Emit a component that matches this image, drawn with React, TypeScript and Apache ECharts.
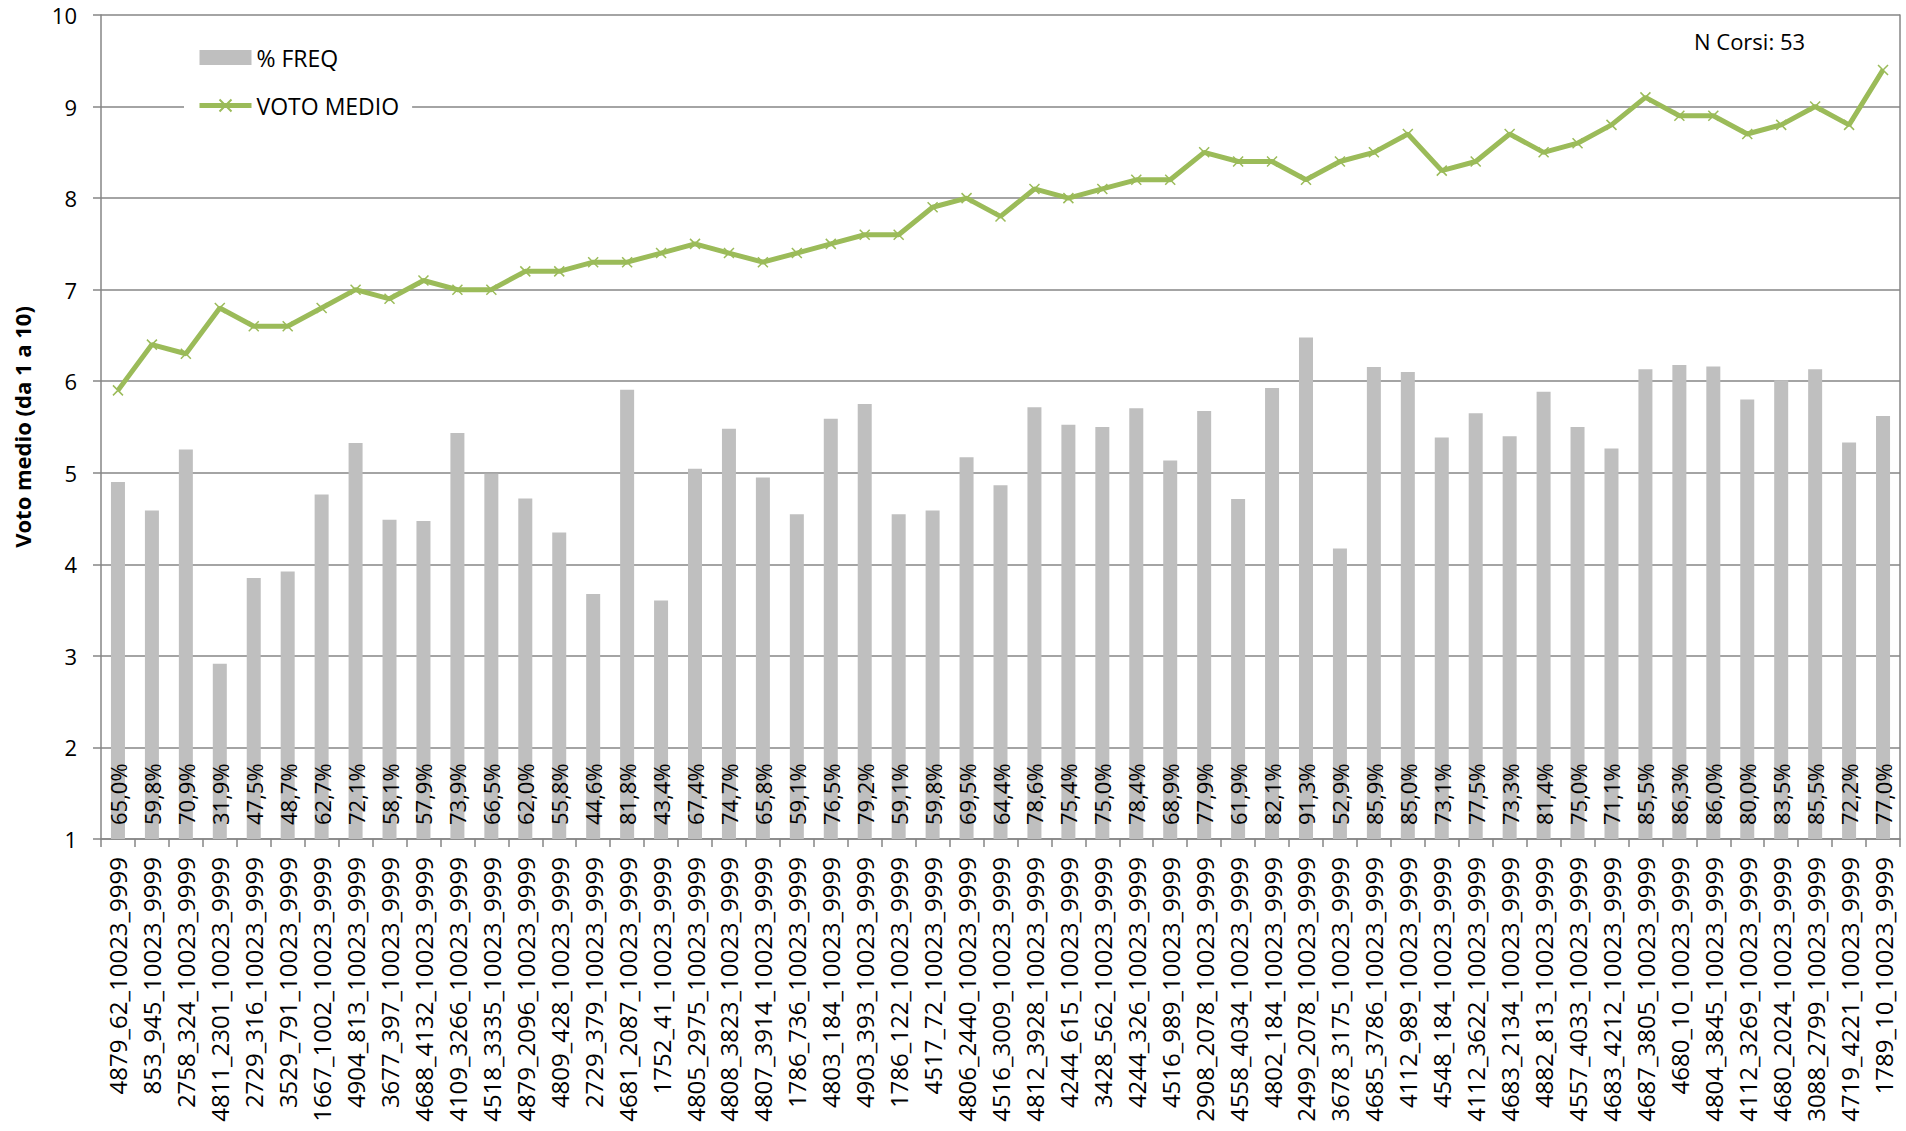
import React, { useEffect, useRef } from "react";
import * as echarts from "echarts";

const categories: string[] = [
  "4879_62_10023_9999", "853_945_10023_9999", "2758_324_10023_9999", "4811_2301_10023_9999",
  "2729_316_10023_9999", "3529_791_10023_9999", "1667_1002_10023_9999", "4904_813_10023_9999",
  "3677_397_10023_9999", "4688_4132_10023_9999", "4109_3266_10023_9999", "4518_3335_10023_9999",
  "4879_2096_10023_9999", "4809_428_10023_9999", "2729_379_10023_9999", "4681_2087_10023_9999",
  "1752_41_10023_9999", "4805_2975_10023_9999", "4808_3823_10023_9999", "4807_3914_10023_9999",
  "1786_736_10023_9999", "4803_184_10023_9999", "4903_393_10023_9999", "1786_122_10023_9999",
  "4517_72_10023_9999", "4806_2440_10023_9999", "4516_3009_10023_9999", "4812_3928_10023_9999",
  "4244_615_10023_9999", "3428_562_10023_9999", "4244_326_10023_9999", "4516_989_10023_9999",
  "2908_2078_10023_9999", "4558_4034_10023_9999", "4802_184_10023_9999", "2499_2078_10023_9999",
  "3678_3175_10023_9999", "4685_3786_10023_9999", "4112_989_10023_9999", "4548_184_10023_9999",
  "4112_3622_10023_9999", "4683_2134_10023_9999", "4882_813_10023_9999", "4557_4033_10023_9999",
  "4683_4212_10023_9999", "4687_3805_10023_9999", "4680_10_10023_9999", "4804_3845_10023_9999",
  "4112_3269_10023_9999", "4680_2024_10023_9999", "3088_2799_10023_9999", "4719_4221_10023_9999",
  "1789_10_10023_9999",
];

const freqPct: number[] = [
  65.0, 59.8, 70.9, 31.9, 47.5, 48.7, 62.7, 72.1, 58.1, 57.9, 73.9, 66.5,
  62.0, 55.8, 44.6, 81.8, 43.4, 67.4, 74.7, 65.8, 59.1, 76.5, 79.2, 59.1,
  59.8, 69.5, 64.4, 78.6, 75.4, 75.0, 78.4, 68.9, 77.9, 61.9, 82.1, 91.3,
  52.9, 85.9, 85.0, 73.1, 77.5, 73.3, 81.4, 75.0, 71.1, 85.5, 86.3, 86.0,
  80.0, 83.5, 85.5, 72.2, 77.0,
];

const votoMedio: number[] = [
  5.9, 6.4, 6.3, 6.8, 6.6, 6.6, 6.8, 7.0, 6.9, 7.1, 7.0, 7.0,
  7.2, 7.2, 7.3, 7.3, 7.4, 7.5, 7.4, 7.3, 7.4, 7.5, 7.6, 7.6,
  7.9, 8.0, 7.8, 8.1, 8.0, 8.1, 8.2, 8.2, 8.5, 8.4, 8.4, 8.2,
  8.4, 8.5, 8.7, 8.3, 8.4, 8.7, 8.5, 8.6, 8.8, 9.1, 8.9, 8.9,
  8.7, 8.8, 9.0, 8.8, 9.4,
];

const seriesNames = ["% FREQ", "VOTO MEDIO"];
const yAxisTitle = "Voto medio (da 1 a 10)";
const nCorsiLabel = "N Corsi: " + categories.length;

const FONT = "'Open Sans', 'Noto Sans', sans-serif";
const GRID_COLOR = "#868686";
const GREEN = "#9BBB59";
const GREY_BAR = "#BFBFBF";

export default function App() {
  const ref = useRef<HTMLDivElement>(null);

  useEffect(() => {
    if (!ref.current) return;
    const chart = echarts.init(ref.current, undefined, { renderer: "svg" });
    const option: any = {
      animation: false,
      backgroundColor: "#ffffff",
      textStyle: { fontFamily: FONT, color: "#000" },
      grid: {
        left: 101,
        right: 6,
        top: 15,
        bottom: 292,
        containLabel: false,
        outerBoundsMode: "none",
      },
      legend: {
        orient: "vertical",
        left: 184,
        top: 36,
        itemWidth: 52,
        itemHeight: 15,
        itemGap: 25,
        padding: [10, 13, 10, 13],
        backgroundColor: "#ffffff",
        textStyle: { fontSize: 23, fontFamily: FONT, color: "#000" },
        data: [
          { name: seriesNames[0], icon: "rect" },
          { name: seriesNames[1], lineStyle: { width: 5, color: GREEN } },
        ],
      },
      graphic: [
        {
          type: "text",
          left: 1694,
          top: 30,
          style: { text: nCorsiLabel, fontSize: 22, fontFamily: FONT, fill: "#000" },
        },
      ],
      xAxis: {
        type: "category",
        data: categories,
        boundaryGap: true,
        axisLine: { show: true, lineStyle: { color: GRID_COLOR, width: 1.5 } },
        axisTick: { show: true, interval: 0, length: 8, alignWithLabel: false, lineStyle: { color: GRID_COLOR, width: 1.5 } },
        axisLabel: {
          interval: 0,
          rotate: 90,
          margin: 18,
          fontSize: 24,
          fontFamily: FONT,
          color: "#000",
        },
      },
      yAxis: [
        {
          type: "value",
          min: 1,
          max: 10,
          interval: 1,
          name: yAxisTitle,
          nameLocation: "middle",
          nameRotate: 90,
          nameGap: 68,
          nameTextStyle: { fontSize: 22, fontWeight: "bold", fontFamily: FONT, color: "#000" },
          axisLine: { show: true, lineStyle: { color: GRID_COLOR, width: 1.5 } },
          axisTick: { show: true, length: 8, lineStyle: { color: GRID_COLOR, width: 1.5 } },
          axisLabel: { margin: 24, fontSize: 22, fontFamily: FONT, color: "#000" },
          splitLine: { show: true, lineStyle: { color: GRID_COLOR, width: 1.5 } },
        },
        {
          type: "value",
          min: 0,
          max: 150,
          interval: 150,
          position: "right",
          axisLine: { show: true, lineStyle: { color: GRID_COLOR, width: 1.5 } },
          axisTick: { show: false },
          axisLabel: { show: false },
          splitLine: { show: false },
        },
      ],
      series: [
        {
          name: seriesNames[0],
          type: "bar",
          yAxisIndex: 1,
          data: freqPct,
          barWidth: 14,
          itemStyle: { color: GREY_BAR },
          label: {
            show: true,
            position: "insideBottom",
            rotate: 90,
            align: "left",
            verticalAlign: "middle",
            distance: 14,
            fontSize: 22,
            fontFamily: FONT,
            color: "#000",
            formatter: (p: any) => p.value.toFixed(1).replace(".", ",") + "%",
          },
          z: 2,
        },
        {
          name: seriesNames[1],
          type: "line",
          yAxisIndex: 0,
          data: votoMedio,
          symbol: "path://M0,0L10,10M10,0L0,10",
          symbolSize: 10,
          showSymbol: true,
          lineStyle: { color: GREEN, width: 5 },
          itemStyle: { color: GREEN, borderColor: GREEN, borderWidth: 1.5 },
          z: 3,
        },
      ],
    };
    chart.setOption(option);
    return () => chart.dispose();
  }, []);

  return (
    <div
      ref={ref}
      style={{ position: "fixed", left: 0, top: 0, width: 1906, height: 1131, background: "#fff" }}
    />
  );
}
